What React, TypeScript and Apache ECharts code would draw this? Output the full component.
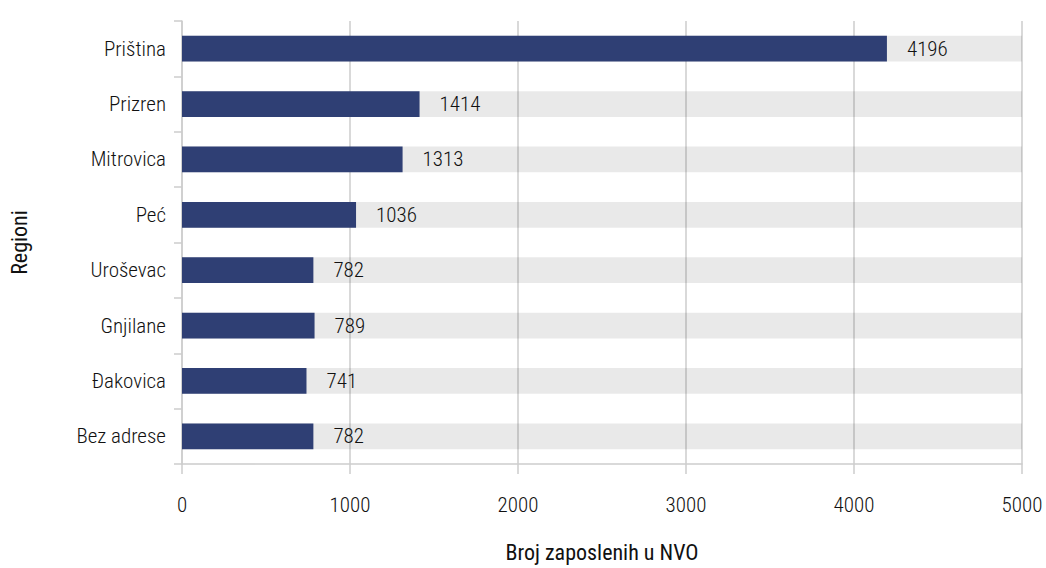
import React, { useEffect, useRef } from "react";
import * as echarts from "echarts";

const categories = ["Priština", "Prizren", "Mitrovica", "Peć", "Uroševac", "Gnjilane", "Đakovica", "Bez adrese"];
const values = [4196, 1414, 1313, 1036, 782, 789, 741, 782];
const xAxisName = "Broj zaposlenih u NVO";
const yAxisName = "Regioni";

const FONT = "'Roboto Condensed', 'Liberation Sans Narrow', 'Arial Narrow', Roboto, sans-serif";

export default function App() {
  const ref = useRef<HTMLDivElement>(null);
  useEffect(() => {
    document.body.style.margin = "0";
    if (!ref.current) return;
    const chart = echarts.init(ref.current, undefined, { renderer: "svg" });
    chart.setOption({
      animation: false,
      textStyle: { fontFamily: FONT },
      grid: { left: 181, right: 24, top: 21, bottom: 100, containLabel: false },
      xAxis: {
        type: "value",
        min: 0,
        max: 5000,
        interval: 1000,
        name: xAxisName,
        nameLocation: "middle",
        nameGap: 77,
        nameTextStyle: { fontFamily: FONT, fontSize: 22, color: "#111", fontWeight: 400 },
        axisLine: { show: true, lineStyle: { color: "#cccccc", width: 1.5 } },
        axisTick: { show: true, length: 10, lineStyle: { color: "#cccccc", width: 1.5 } },
        splitLine: { show: true, lineStyle: { color: "#cccccc", width: 1.5 } },
        axisLabel: {
          fontFamily: FONT,
          fontSize: 21,
          fontWeight: 300,
          color: "#111",
          margin: 30,
          formatter: (v: number) => String(v),
        },
      },
      yAxis: {
        type: "category",
        data: categories,
        inverse: true,
        name: yAxisName,
        nameLocation: "middle",
        nameGap: 152,
        nameTextStyle: { fontFamily: FONT, fontSize: 22, color: "#111", fontWeight: 400 },
        axisLine: { show: true, lineStyle: { color: "#cccccc", width: 1.5 } },
        axisTick: { show: true, length: 8, lineStyle: { color: "#cccccc", width: 1.5 } },
        axisLabel: { fontFamily: FONT, fontSize: 21, fontWeight: 300, color: "#111", margin: 16 },
        splitLine: { show: false },
      },
      series: [
        {
          type: "bar",
          data: values,
          barWidth: "46.5%",
          itemStyle: { color: "#2f3f74" },
          showBackground: true,
          backgroundStyle: { color: "rgba(0,0,0,0.085)" },
          label: {
            show: true,
            position: "right",
            distance: 20,
            fontFamily: FONT,
            fontSize: 21,
            fontWeight: 300,
            color: "#111",
          },
        },
      ],
    });
    return () => chart.dispose();
  }, []);
  return <div ref={ref} style={{ width: 1046, height: 568 }} />;
}
